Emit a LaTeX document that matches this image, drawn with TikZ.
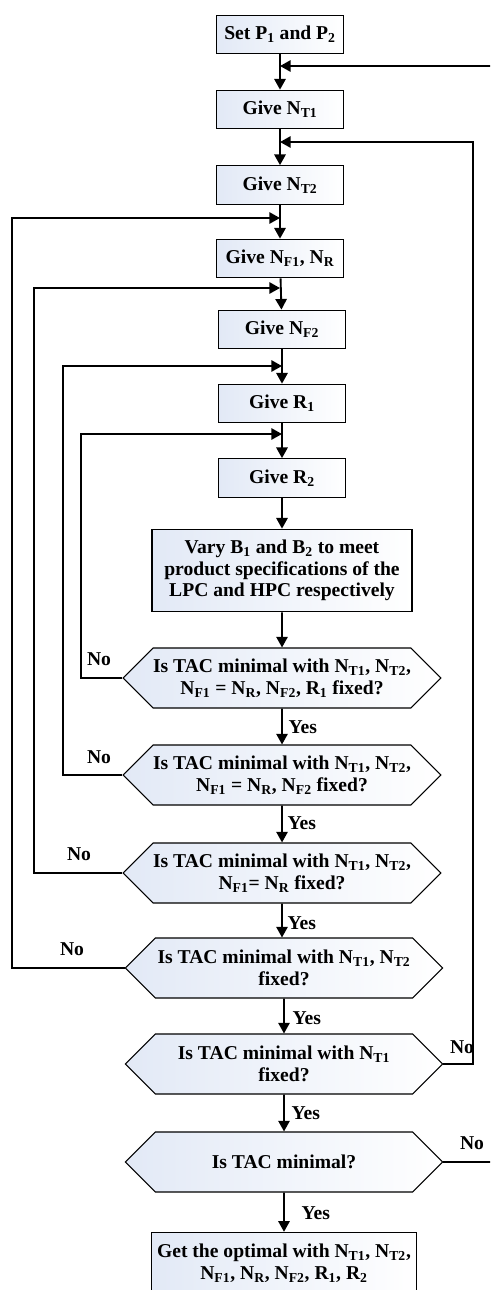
\documentclass[tikz,border=0pt]{standalone}
\usepackage{fontspec}
\setmainfont{Liberation Serif}
\usetikzlibrary{arrows.meta,shapes.symbols}
\definecolor{boxblue}{RGB}{226,233,246}

\tikzset{
  txt/.style={font=\fontsize{14.7}{16.3}\selectfont\bfseries},
  stepbox/.style={draw,line width=0.8pt,left color=boxblue,right color=white,minimum width=95pt,minimum height=29pt,align=center,txt},
  testbox/.style={signal,signal to=east and west,signal pointer angle=90,draw,line width=0.8pt,left color=boxblue,right color=white,minimum width=238pt,minimum height=45pt,inner sep=0pt,align=center,txt},
  flow/.style={line width=1.4pt,-{Triangle[length=8pt,width=8.5pt]}},
  lbl/.style={txt,inner sep=1pt}
}

\begin{document}
\begin{tikzpicture}[x=0.75pt,y=-0.75pt]
\clip (0,0) rectangle (490,1290);
% steps
\node[stepbox] (set) at (280,34.5) {Set P\textsubscript{1} and P\textsubscript{2}};
\node[stepbox] (nt1) at (280,109.5) {Give N\textsubscript{T1}};
\node[stepbox] (nt2) at (280,185) {Give N\textsubscript{T2}};
\node[stepbox] (nf1) at (280,258.5) {Give N\textsubscript{F1}, N\textsubscript{R}};
\node[stepbox] (nf2) at (282,329.5) {Give N\textsubscript{F2}};
\node[stepbox] (r1) at (282,403.5) {Give R\textsubscript{1}};
\node[stepbox] (r2) at (282,478) {Give R\textsubscript{2}};
\node[stepbox,minimum width=195pt,minimum height=62pt] (vary) at (282,570.5) {Vary B\textsubscript{1} and B\textsubscript{2} to meet\\product specifications of the\\LPC and HPC respectively};
% tests
\node[testbox] (d1) at (282,678) {Is TAC minimal with N\textsubscript{T1}, N\textsubscript{T2},\\N\textsubscript{F1} = N\textsubscript{R}, N\textsubscript{F2}, R\textsubscript{1} fixed?};
\node[testbox] (d2) at (282,775) {Is TAC minimal with N\textsubscript{T1}, N\textsubscript{T2},\\N\textsubscript{F1} = N\textsubscript{R}, N\textsubscript{F2} fixed?};
\node[testbox] (d3) at (282,873) {Is TAC minimal with N\textsubscript{T1}, N\textsubscript{T2},\\N\textsubscript{F1}= N\textsubscript{R} fixed?};
\node[testbox] (d4) at (284,968) {Is TAC minimal with N\textsubscript{T1}, N\textsubscript{T2}\\fixed?};
\node[testbox] (d5) at (284,1064) {Is TAC minimal with N\textsubscript{T1}\\fixed?};
\node[testbox] (d6) at (284,1162) {Is TAC minimal?};
\node[stepbox,minimum width=199pt,minimum height=46pt] (opt) at (284,1263) {Get the optimal with N\textsubscript{T1}, N\textsubscript{T2},\\N\textsubscript{F1}, N\textsubscript{R}, N\textsubscript{F2}, R\textsubscript{1}, R\textsubscript{2}};
% merge points on the main line
\coordinate (m1) at (280,66);
\coordinate (m2) at (280,142);
\coordinate (m3) at (280,218);
\coordinate (m4) at (280,288);
\coordinate (m5) at (282,366);
\coordinate (m6) at (282,434);
% x of the return lines
\coordinate (l1) at (81,0);
\coordinate (l2) at (63,0);
\coordinate (l3) at (34,0);
\coordinate (l4) at (12,0);
\coordinate (l5) at (473,0);
\coordinate (l6) at (492,0);
% main flow
\draw[flow] (set) -- (nt1);
\draw[flow] (nt1) -- (nt2);
\draw[flow] (nt2) -- (nf1);
\draw[flow] (nf1) -- (nf2);
\draw[flow] (nf2) -- (r1);
\draw[flow] (r1) -- (r2);
\draw[flow] (r2) -- (vary);
\draw[flow] (vary) -- (d1);
\draw[flow] (d1) -- (d2);
\draw[flow] (d2) -- (d3);
\draw[flow] (d3) -- (d3 |- d4.north);
\draw[flow] (d4) -- (d5);
\draw[flow] (d5) -- (d6);
\draw[flow] (d6) -- (opt);
% loops back
\draw[flow] (d1.west) -- (d1.west -| l1) |- (m6);
\draw[flow] (d2.west) -- (d2.west -| l2) |- (m5);
\draw[flow] (d3.west) -- (d3.west -| l3) |- (m4);
\draw[flow] (d4.west) -- (d4.west -| l4) |- (m3);
\draw[flow] (d5.east) -- (d5.east -| l5) |- (m2);
\draw[flow] (d6.east) -- (d6.east -| l6) |- (m1);
% labels
\node[lbl] (no1) at (99,659) {No};
\node[lbl] (no2) at (99,757) {No};
\node[lbl] (no3) at (79,854) {No};
\node[lbl] (no4) at (72,949) {No};
\node[lbl] (no5) at (462,1047) {No};
\node[lbl] (no6) at (472,1143) {No};
\node[lbl,anchor=west] (yes1) at (287,727) {Yes};
\node[lbl,anchor=west] (yes2) at (286,823) {Yes};
\node[lbl,anchor=west] (yes3) at (286,923) {Yes};
\node[lbl,anchor=west] (yes4) at (291,1018) {Yes};
\node[lbl,anchor=west] (yes5) at (290,1113) {Yes};
\node[lbl,anchor=west] (yes6) at (300,1213) {Yes};
\end{tikzpicture}
\end{document}
